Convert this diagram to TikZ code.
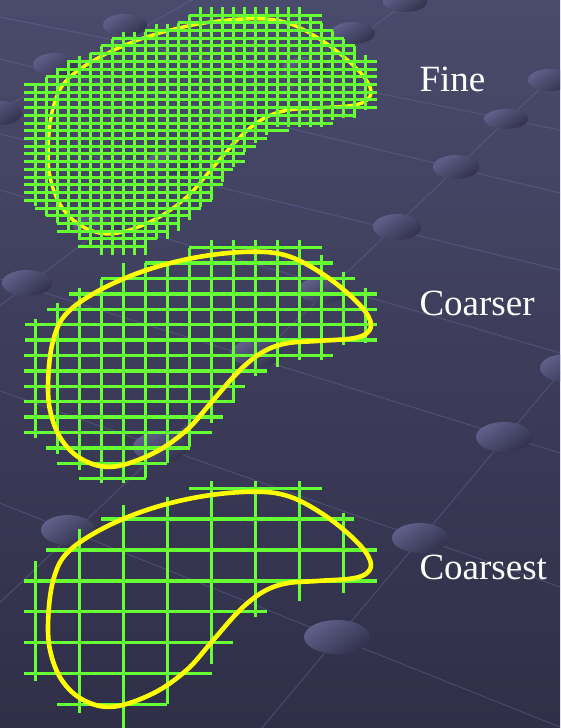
\documentclass[tikz,border=0pt]{standalone}
\usepackage{fontspec}
\setmainfont{Liberation Serif}
\definecolor{gridgreen}{RGB}{102,255,51}
\definecolor{blobyellow}{RGB}{255,255,0}
\definecolor{bgtop}{RGB}{74,74,108}
\definecolor{bgbot}{RGB}{47,47,72}
\definecolor{dotlight}{RGB}{96,96,140}
\definecolor{dotdark}{RGB}{50,50,76}
\definecolor{floorline}{RGB}{105,105,155}
\newcommand{\mkblob}[1]{\draw[#1] plot[smooth cycle, tension=0.6] coordinates {(48.3,376.7) (53.3,340) (66.7,313.3) (100,290) (146.7,270) (200,256.7) (253.3,251.7) (290,256.7) (326.7,276.7) (356.7,301.7) (370,320) (368.3,331.7) (353.3,338.3) (316.7,341) (286.7,343.3) (263.3,351.7) (240,370) (213.3,400) (186.7,430) (153.3,453.3) (113.3,466.7) (83.3,460) (61.7,440) (50,410)};}
\begin{document}
\begin{tikzpicture}[x=1pt,y=-1pt,
  finegrid/.style={draw=gridgreen, line width=3pt},
  coarsegrid/.style={draw=gridgreen, line width=3.4pt},
  blobthin/.style={draw=blobyellow, line width=3.5pt},
  blobthick/.style={draw=blobyellow, line width=4.6pt},
  floor/.style={draw=floorline, line width=1pt, opacity=0.45},
  dotshade/.style={top color=dotlight, bottom color=dotdark, shading angle=35},
  lbl/.style={anchor=base west, inner sep=0pt, text=white, font=\fontsize{37}{40}\selectfont}]
\shade[top color=bgtop, bottom color=bgbot] (0,0) rectangle (560,728);
\useasboundingbox (0,0) rectangle (560,728);
\begin{scope}
\clip (0,0) rectangle (560,728);
% floor lines
\draw[floor] (0,17) -- (560,130);
\draw[floor] (0,59) -- (560,193);
\draw[floor] (0,134) -- (560,270);
\draw[floor] (0,190) -- (560,353);
\draw[floor] (0,279) -- (560,453);
\draw[floor] (0,391) -- (560,587);
\draw[floor] (0,503) -- (560,727);
\draw[floor] (570,60) -- (-10,612);
\draw[floor] (580,349) -- (250,742);
\draw[floor] (-10,313) -- (420,-8);
\draw[floor] (-10,116) -- (200,-5);
% dots
\foreach \cx/\cy/\rx/\ry in {405/2/22/10, 125/25/22/11, 353/33/22/11, 55/65/22/12, 305/68/22/11, 550/80/22/11, 0/113/22/12, 237/112/23/12, 506/119/22/10, 170/163/24/12, 456/167/23/12, 97/225/24/13, 397/227/24/13, 27/283/25/13, 323/290/25/13, 257/353/26/14, 566/368/26/14, 504/437/28/15, 160/447/27/15, 68/530/27/15, 420/538/28/15, 337/637/33/17}
  \shade[dotshade] (\cx,\cy) ellipse [x radius=\rx pt, y radius=\ry pt];
\end{scope}
% ---------- Fine ----------
\begin{scope}[shift={(0,-233)}]
\mkblob{blobthin}
\end{scope}
\foreach \j/\a/\b in {0/189.3/321.7, 1/178.3/321.7, 2/145/333.3, 3/111.7/344, 4/100.7/355, 5/90/355, 6/68.3/376.7, 7/56.7/376.7, 8/46/376.7, 9/24/376.7, 10/24/376.7, 11/24/376.7, 12/24/376.7, 13/24/355, 14/24/333.3, 15/24/289, 16/24/266.7, 17/24/255.7, 18/24/245, 19/24/245, 20/24/233.3, 21/24/222.7, 22/24/222.7, 23/24/211.7, 24/24/211.7, 25/35/200.7, 26/46/190, 27/56.7/178.3, 28/56.7/168.3, 29/78.3/156.7, 30/78.3/145}
  \draw[finegrid] (\a,{15+7.72*\j}) -- (\b,{15+7.72*\j});
\foreach \k/\t/\u in {0/83.3/206, 1/77.3/216, 2/68.3/223.3, 3/60/231, 4/56/239, 5/53/246.7, 6/46/255, 7/39.3/255, 8/31.7/255, 9/31.7/255, 10/31.7/255, 11/24/239, 12/24/239, 13/22.7/231, 14/15/220, 15/7.3/207.3, 16/7.3/200, 17/7.3/182, 18/7.3/166.7, 19/7.3/151.7, 20/7.3/142.7, 21/7.3/135, 22/7.3/127.3, 23/7.3/127.3, 24/7.3/127.3, 25/15/127.3, 26/22.7/127, 27/30.7/120, 28/38.7/118.3, 29/46/118.3, 30/55/110}
  \draw[finegrid] ({35.3+11*\k},\t) -- ({35.3+11*\k},\u);
% ---------- Coarser ----------
\foreach \j/\a/\b in {0/189.3/321.7, 1/145.3/333.3, 2/101.3/355, 3/69.3/377.3, 4/47.3/377.3, 5/25/377.3, 6/25/377.3, 7/24/333.3, 8/24/266.7, 9/24/245, 10/24/233.3, 11/24/222.7, 12/24/211.7, 13/46/190, 14/57.3/166.7, 15/79.3/146}
  \draw[coarsegrid] (\a,{247.7+15.4*\j}) -- (\b,{247.7+15.4*\j});
\foreach \k/\t/\u in {0/319.3/438.3, 1/303.3/454, 2/288.3/470, 3/279/483, 4/263.3/483, 5/263.3/478.3, 6/263.3/463.3, 7/247.7/447.3, 8/240/422.7, 9/240/403.3, 10/240/376, 11/240/366.7, 12/240/360, 13/255/360, 14/271.7/345, 15/288.3/343.3}
  \draw[coarsegrid] ({35.3+22*\k},\t) -- ({35.3+22*\k},\u);
\mkblob{blobthick}
% ---------- Coarsest ----------
\foreach \j/\a/\b in {0/189/321.7, 1/101/354.3, 2/46/376.7, 3/24/376.7, 4/24/266.7, 5/24/233.3, 6/24/211.7, 7/57.3/167.3}
  \draw[coarsegrid] (\a,{488.3+30.86*\j}) -- (\b,{488.3+30.86*\j});
\foreach \k/\t/\u in {0/561/680.7, 1/529.3/712.7, 2/505/730, 3/497.3/704.3, 4/481/664.3, 5/481/616.7, 6/481/600.7, 7/512.7/592.7}
  \draw[coarsegrid] ({35.3+44*\k},\t) -- ({35.3+44*\k},\u);
\begin{scope}[shift={(0,240)}]
\mkblob{blobthick}
\end{scope}
% ---------- Labels ----------
\node[lbl] (fine) at (419.3,91.7) {Fine};
\node[lbl] (coarser) at (419.3,315) {Coarser};
\node[lbl] (coarsest) at (419.3,579.3) {Coarsest};
\end{tikzpicture}
\end{document}
